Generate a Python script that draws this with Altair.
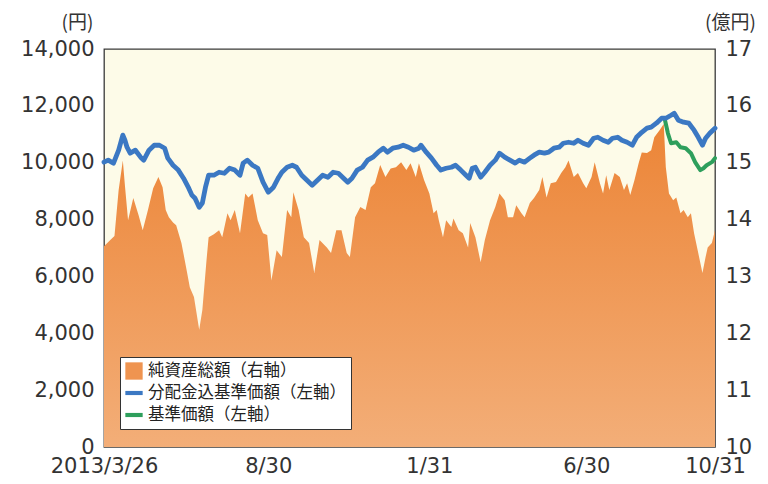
import altair as alt
import pandas as pd

START = pd.Timestamp("2013-03-26")

S_ASSET = "純資産総額（右軸）"
S_NAVD = "分配金込基準価額（左軸）"
S_NAV = "基準価額（左軸）"
SERIES = [S_ASSET, S_NAVD, S_NAV]

# 純資産総額 (億円, right axis) : day offset from 2013/3/26, value
asset_days = [0, 6, 10, 14, 18, 20, 23, 28, 33, 37, 42, 47, 52, 56, 59, 62, 66, 69, 74, 79,
              82, 86, 91, 94, 98, 100, 105, 110, 113, 118, 121, 125, 130, 135, 138, 142, 147, 152, 156, 160,
              165, 170, 175, 179, 181, 186, 191, 196, 201, 206, 213, 217, 222, 227, 232, 235, 240, 245, 250, 255,
              259, 264, 269, 274, 279, 284, 289, 293, 298, 301, 306, 311, 315, 318, 320, 324, 327, 332, 334, 339,
              343, 348, 350, 355, 360, 364, 369, 374, 378, 383, 386, 391, 394, 399, 402, 407, 411, 416, 419, 423,
              427, 432, 437, 441, 444, 449, 453, 458, 461, 466, 469, 474, 477, 480, 483, 488, 493, 497, 500, 503,
              507, 511, 514, 519, 523, 526, 531, 535, 537, 540, 544, 547, 551, 554, 558, 561, 564, 568, 572, 575,
              577, 581, 584]
asset_values = [13.53, 13.64, 13.71, 14.52, 15.04, 14.60, 13.99, 14.38, 14.08, 13.81, 14.17, 14.55, 14.75, 14.57, 14.17, 14.04, 13.95, 13.90, 13.59, 13.11,
                12.81, 12.64, 12.06, 12.41, 13.29, 13.69, 13.74, 13.81, 13.69, 14.11, 13.99, 14.17, 13.76, 14.46, 14.39, 14.46, 13.99, 13.76, 13.73, 12.93,
                13.46, 13.34, 14.17, 14.04, 14.48, 14.17, 13.69, 13.59, 13.06, 13.64, 13.51, 13.41, 13.81, 13.81, 13.41, 13.34, 14.04, 14.22, 14.17, 14.57,
                14.64, 14.96, 14.75, 14.90, 14.92, 15.01, 14.87, 14.99, 14.75, 14.99, 14.69, 14.46, 14.11, 14.17, 13.99, 13.69, 13.99, 13.87, 14.02, 13.81,
                13.76, 13.51, 13.94, 13.69, 13.25, 13.64, 13.99, 14.22, 14.46, 14.34, 14.04, 14.04, 14.25, 14.11, 14.04, 14.29, 14.38, 14.52, 14.75, 14.39,
                14.64, 14.66, 14.82, 14.92, 15.04, 14.75, 14.82, 14.64, 14.55, 14.75, 15.01, 14.64, 14.46, 14.78, 14.52, 14.82, 14.75, 14.52, 14.64, 14.43,
                14.69, 14.99, 15.18, 15.17, 15.22, 15.45, 15.57, 15.68, 14.92, 14.46, 14.34, 14.39, 14.11, 14.17, 14.04, 14.11, 13.76, 13.41, 13.06, 13.34,
                13.51, 13.59, 13.81]

# 分配金込基準価額 (円, left axis)
navd_days = [0, 4, 9, 14, 18, 20, 22, 25, 30, 35, 38, 43, 48, 53, 58, 61, 66, 71, 76, 81,
             84, 87, 91, 94, 97, 100, 105, 110, 115, 120, 125, 130, 133, 137, 142, 147, 152, 157, 162, 167,
             170, 175, 180, 184, 189, 194, 199, 204, 209, 214, 219, 224, 228, 233, 237, 242, 247, 252, 257, 262,
             267, 271, 276, 281, 286, 291, 296, 301, 303, 308, 313, 318, 322, 327, 332, 336, 341, 346, 349, 352,
             355, 360, 364, 369, 374, 378, 383, 388, 393, 397, 402, 407, 411, 416, 421, 425, 430, 435, 439, 444,
             449, 453, 458, 463, 468, 472, 477, 482, 486, 491, 495, 500, 505, 509, 514, 519, 523, 528, 533, 537,
             542, 545, 549, 554, 559, 564, 568, 572, 575, 579, 584]
navd_values = [10020, 10090, 9980, 10440, 10970, 10790, 10545, 10335, 10440, 10195, 10090, 10440, 10615, 10615, 10510, 10160, 9910, 9740, 9455, 9105,
               8860, 8750, 8435, 8580, 9140, 9560, 9560, 9665, 9630, 9805, 9740, 9560, 9985, 10090, 9910, 9805, 9315, 8965, 9140, 9490,
               9665, 9840, 9910, 9840, 9560, 9385, 9210, 9385, 9560, 9490, 9665, 9630, 9490, 9315, 9455, 9740, 9840, 10090, 10195, 10370,
               10510, 10370, 10510, 10545, 10615, 10545, 10440, 10510, 10615, 10370, 10160, 9910, 9740, 9805, 9840, 9910, 9740, 9560, 9455, 9805,
               9840, 9490, 9665, 9910, 10090, 10335, 10195, 10090, 9985, 10090, 10020, 10160, 10265, 10370, 10335, 10370, 10510, 10545, 10685, 10720,
               10685, 10790, 10685, 10615, 10860, 10895, 10790, 10720, 10860, 10895, 10790, 10720, 10615, 10895, 11070, 11215, 11250, 11390, 11565, 11565,
               11670, 11740, 11495, 11425, 11390, 11145, 10895, 10615, 10860, 11035, 11215]

# 基準価額 (円, left axis) — shown after the distribution
nav_days = [536, 539, 542, 547, 551, 556, 561, 565, 570, 573, 576, 581, 584]
nav_values = [11530, 11035, 10685, 10720, 10545, 10510, 10335, 10020, 9740, 9805, 9910, 10020, 10160]

left_ticks = [0, 2000, 4000, 6000, 8000, 10000, 12000, 14000]
right_ticks = [10, 11, 12, 13, 14, 15, 16, 17]

ORANGE = "#EF9450"
BLUE = "#3B78C3"
GREEN = "#2E9F5C"
LINE_PATH = "M-1,-0.24H1V0.24H-1Z"


def frame(days, vals, series):
    return pd.DataFrame({
        "date": [(START + pd.Timedelta(days=int(d))).strftime("%Y-%m-%dT00:00:00") for d in days],
        "value": vals,
        "series": series,
    })


df_asset = frame(asset_days, asset_values, S_ASSET)
df_navd = frame(navd_days, navd_values, S_NAVD)
df_nav = frame(nav_days, nav_values, S_NAV)
# one (invisible) row per series, used only to build the key
df_key = pd.concat([df_asset.iloc[[0]], df_navd.iloc[[0]], df_nav.iloc[[0]]], ignore_index=True)

x_enc = alt.X(
    "date:T",
    scale=alt.Scale(domain=[alt.DateTime(year=2013, month=3, date=26),
                            alt.DateTime(year=2014, month=10, date=31)]),
    axis=alt.Axis(
        title=None,
        values=[alt.DateTime(year=2013, month=3, date=26), alt.DateTime(year=2013, month=8, date=30),
                alt.DateTime(year=2014, month=1, date=31), alt.DateTime(year=2014, month=6, date=30),
                alt.DateTime(year=2014, month=10, date=31)],
        labelExpr="year(datum.value) == 2013 && month(datum.value) == 2 ? '2013/3/26' : timeFormat(datum.value, '%-m/%-d')",
        labelFlush=False,
        labelOverlap=False,
        labelPadding=8,
    ),
)

area = alt.Chart(df_asset).mark_area(
    color=alt.Gradient(
        gradient="linear",
        stops=[alt.GradientStop(color="#EC8537", offset=0),
               alt.GradientStop(color="#F3AE78", offset=1)],
        x1=1, x2=1, y1=0, y2=1,
    )
).encode(
    x=x_enc,
    y=alt.Y("value:Q",
            scale=alt.Scale(domain=[10, 17], nice=False, zero=False),
            axis=alt.Axis(orient="right", values=right_ticks, title="(億円)",
                          titleAngle=0, titleX=15, titleY=-27, titleAlign="center",
                          titleBaseline="middle", labelPadding=10)),
    y2=alt.datum(10),
)

legend = alt.Legend(
    title="", orient="none", legendX=16, legendY=308,
    fillColor="white", strokeColor="#333333", padding=5,
    labelFont="Noto Sans CJK JP", labelFontSize=16.5, labelColor="#222222",
    labelLimit=400, labelOffset=5, symbolSize=300, rowPadding=4,
    symbolOpacity=1, symbolStrokeWidth=0,
)

color_scale = alt.Scale(domain=SERIES, range=[ORANGE, BLUE, GREEN])
shape_scale = alt.Scale(domain=SERIES, range=["square", LINE_PATH, LINE_PATH])

y_left = alt.Y("value:Q",
               scale=alt.Scale(domain=[0, 14000], nice=False),
               axis=alt.Axis(orient="left", values=left_ticks, format=",d", title="(円)",
                             titleAngle=0, titleX=-27, titleY=-27, titleAlign="center",
                             titleBaseline="middle", labelPadding=10))

# invisible carrier for the key (square for the area, bars for the lines)
key = alt.Chart(df_key).mark_point(filled=True, opacity=0).encode(
    x=x_enc, y=y_left,
    color=alt.Color("series:N", scale=color_scale, legend=legend),
    shape=alt.Shape("series:N", scale=shape_scale, legend=legend),
)

green_line = alt.Chart(df_nav).mark_line(strokeWidth=4, strokeJoin="round", strokeCap="round").encode(
    x=x_enc, y=y_left, color=alt.Color("series:N", scale=color_scale, legend=legend))
blue_line = alt.Chart(df_navd).mark_line(strokeWidth=4.8, strokeJoin="round", strokeCap="round").encode(
    x=x_enc, y=y_left, color=alt.Color("series:N", scale=color_scale, legend=legend))

lines = alt.layer(key, green_line, blue_line)

chart = alt.layer(area, lines).resolve_scale(y="independent").properties(
    width=611, height=398,
    autosize=alt.AutoSizeParams(type="none"),
    padding={"left": 96, "top": 41, "right": 45, "bottom": 29},
).configure_view(
    fill="#FDFBE8", stroke="#3a3a3a", strokeWidth=1.3,
).configure_axis(
    grid=False, domain=False, ticks=False,
    labelFont="DejaVu Sans", labelFontSize=21, labelColor="#333333",
    titleFont="Noto Sans CJK JP", titleFontSize=19, titleFontWeight="normal", titleColor="#333333",
)

chart.save("out.html", embed_options={"renderer": "svg", "actions": False})
